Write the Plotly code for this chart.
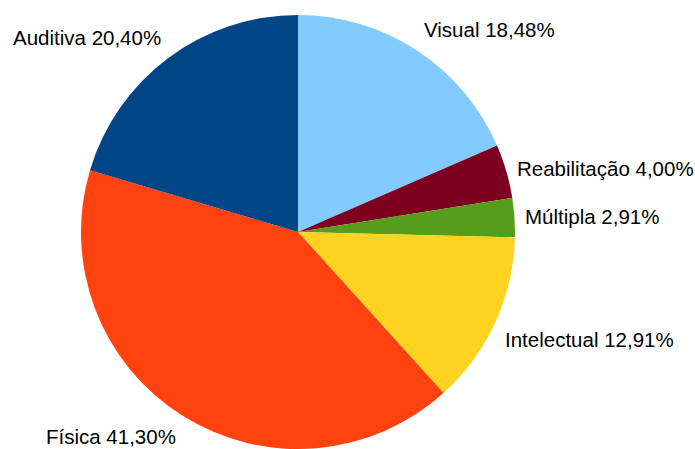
import math
import plotly.graph_objects as go

# Share of each disability type (percent)
categories = ["Visual", "Reabilitação", "Múltipla", "Intelectual", "Física", "Auditiva"]
shares = [18.48, 4.00, 2.91, 12.91, 41.30, 20.40]
slice_colors = ["#83CAFF", "#7E0021", "#579D1C", "#FFD320", "#FF420E", "#004586"]

W, H = 695, 449
dom_x = [80 / W, 516 / W]
dom_y = [0.0, 434 / H]
label_gap = 10  # px between the rim and the label anchor
font = dict(family="Liberation Sans, Arial, sans-serif", size=20.5, color="#000000")

fig = go.Figure(
    go.Pie(
        labels=categories,
        values=shares,
        sort=False,
        direction="clockwise",
        rotation=0,
        marker=dict(colors=slice_colors, line=dict(width=0)),
        textinfo="none",
        hoverinfo="skip",
        domain=dict(x=dom_x, y=dom_y),
    )
)

# Pie geometry in pixels, as plotly lays it out inside the domain
box_w = W * (dom_x[1] - dom_x[0])
box_h = H * (dom_y[1] - dom_y[0])
radius = min(box_w, box_h) / 2
cx = W * (dom_x[0] + dom_x[1]) / 2
cy = H * (1 - (dom_y[0] + dom_y[1]) / 2)


def anchors(phi):
    """Text alignment for an outside label at math angle phi (degrees)."""
    phi %= 360
    if phi <= 22.5 or phi > 337.5:
        return "left", "middle"
    if phi < 67.5:
        return "left", "bottom"
    if phi < 112.5:
        return "center", "bottom"
    if phi <= 157.5:
        return "right", "bottom"
    if phi <= 202.5:
        return "right", "middle"
    if phi < 247.5:
        return "right", "top"
    if phi < 292.5:
        return "center", "top"
    return "left", "top"


total = sum(shares)
cum = 0.0
for name, val in zip(categories, shares):
    mid = (cum + val / 2) / total * 360  # clockwise from 12 o'clock
    cum += val
    phi = 90 - mid
    rr = radius + label_gap
    px = cx + rr * math.cos(math.radians(phi))
    py = cy - rr * math.sin(math.radians(phi))
    xa, ya = anchors(phi)
    text = f"{name} {val:.2f}%".replace(".", ",")
    fig.add_annotation(
        x=px / W,
        y=1 - py / H,
        xref="paper",
        yref="paper",
        text=text,
        showarrow=False,
        xanchor=xa,
        yanchor=ya,
        font=font,
        borderpad=0,
    )

fig.update_layout(
    width=W,
    height=H,
    margin=dict(l=0, r=0, t=0, b=0),
    paper_bgcolor="white",
    plot_bgcolor="white",
    showlegend=False,
    separators=",.",
)

fig.write_html("out.html")
